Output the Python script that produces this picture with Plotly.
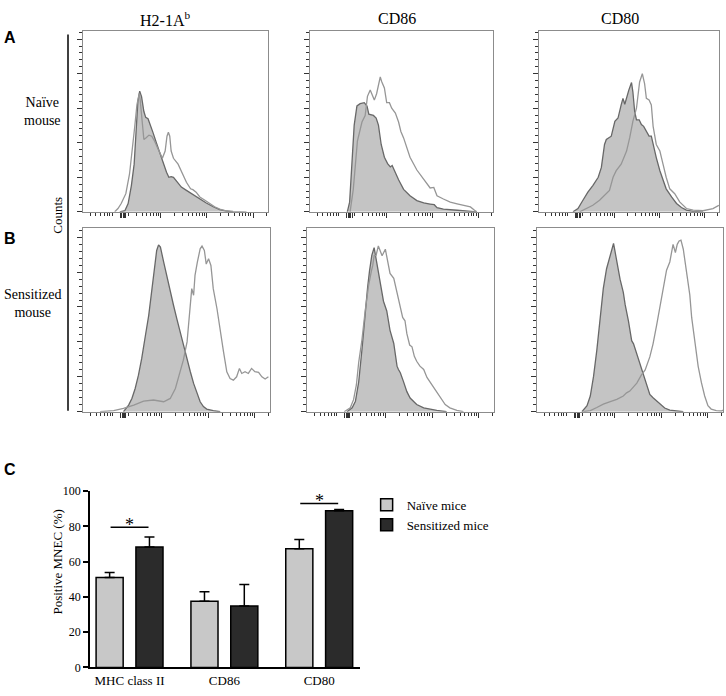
import plotly.graph_objects as go

# ---------------- text ----------------
MARKERS = ["H2-1A<sup>b</sup>", "CD86", "CD80"]
ROWS = ["Naïve<br>mouse", "Sensitized<br>mouse"]
PANELS = ["A", "B", "C"]

# ---------------- histogram data (log10 fluorescence, counts) ----------------
A1_FILL_E = [2.12, 2.23, 2.30, 2.37, 2.43, 2.48, 2.51, 2.55,
             2.59, 2.64, 2.68, 2.73, 2.78, 2.84, 2.91, 2.98,
             3.05, 3.13, 3.18, 3.23, 3.28, 3.36, 3.45, 3.56,
             3.67, 3.77, 3.88, 3.99, 4.14, 4.28, 4.42, 4.57]
A1_FILL_C = [0, 0.6, 4.8, 15.2, 27.6, 50.5, 63.8, 69.9,
             66.7, 58.1, 54.7, 53.9, 50.5, 45.7, 40.0, 34.3,
             28.6, 22.9, 20.0, 20.4, 20.0, 17.1, 14.3, 12.4,
             10.5, 8.6, 6.7, 5.1, 2.9, 1.3, 0.4, 0]
A1_OPEN_E = [2.01, 2.08, 2.15, 2.25, 2.33, 2.39, 2.44, 2.49,
             2.54, 2.56, 2.61, 2.64, 2.69, 2.75, 2.81, 2.87,
             2.95, 3.04, 3.10, 3.14, 3.17, 3.20, 3.23, 3.28,
             3.38, 3.47, 3.56, 3.65, 3.70, 3.77, 3.85, 3.96,
             4.06, 4.17, 4.28, 4.42, 4.57, 4.86]
A1_OPEN_C = [0, 1.9, 4.8, 10.5, 21.9, 35.2, 48.6, 61.9,
             68.6, 64.8, 48.6, 41.9, 42.9, 44.4, 43.8, 41.0,
             36.2, 31.0, 35.2, 43.8, 46.1, 43.8, 35.2, 31.0,
             27.6, 21.9, 17.1, 13.3, 12.8, 11.4, 8.6, 6.7,
             4.8, 2.9, 1.5, 0.6, 0.2, 0]

A2_FILL_E = [2.14, 2.19, 2.24, 2.29, 2.35, 2.42, 2.51, 2.57,
             2.61, 2.71, 2.77, 2.82, 2.88, 2.95, 3.02, 3.08,
             3.12, 3.16, 3.26, 3.37, 3.51, 3.66, 3.81, 3.95,
             4.04, 4.10, 4.24, 4.54, 4.83, 4.97]
A2_FILL_C = [0, 5.6, 27.9, 50.2, 61.3, 62.6, 63.2, 61.3,
             56.5, 55.8, 54.3, 50.2, 39.0, 31.6, 27.9, 26.0,
             26.8, 24.2, 18.6, 13.0, 9.3, 6.5, 5.2, 4.5,
             4.1, 2.4, 1.5, 0.9, 0.4, 0]
A2_OPEN_E = [2.20, 2.27, 2.36, 2.46, 2.53, 2.58, 2.64, 2.67,
             2.73, 2.78, 2.86, 2.89, 2.95, 3.00, 3.06, 3.11,
             3.15, 3.19, 3.26, 3.31, 3.37, 3.51, 3.66, 3.77,
             3.88, 3.95, 4.03, 4.10, 4.24, 4.39, 4.54, 4.68,
             4.83, 4.92, 4.97]
A2_OPEN_C = [0, 13.0, 40.9, 52.0, 55.8, 66.9, 70.6, 68.4,
             64.7, 68.4, 78.1, 75.5, 71.7, 63.2, 63.2, 60.0,
             58.6, 57.2, 52.0, 46.5, 42.8, 31.6, 24.2, 20.4,
             16.7, 13.8, 14.1, 9.3, 7.4, 5.6, 4.6, 3.7,
             2.8, 0.9, 0]

A3_FILL_E = [2.08, 2.19, 2.30, 2.41, 2.52, 2.64, 2.71, 2.78,
             2.82, 2.93, 3.01, 3.08, 3.15, 3.19, 3.23, 3.28,
             3.32, 3.38, 3.41, 3.45, 3.49, 3.55, 3.60, 3.65,
             3.71, 3.77, 3.82, 3.86, 3.93, 4.01, 4.08, 4.15,
             4.27, 4.38, 4.49, 4.60, 4.75, 4.97]
A3_FILL_C = [0, 1.9, 6.7, 11.4, 15.2, 20.0, 25.7, 39.0,
             41.9, 43.8, 52.4, 54.3, 61.9, 65.7, 62.3, 67.6,
             70.5, 74.9, 69.5, 58.1, 53.3, 53.3, 50.5, 49.5,
             46.7, 43.8, 43.8, 39.0, 31.4, 23.8, 18.1, 13.3,
             8.6, 4.8, 2.5, 1.0, 0.2, 0]
A3_OPEN_E = [2.23, 2.38, 2.52, 2.67, 2.78, 2.89, 2.97, 3.04,
             3.15, 3.27, 3.34, 3.41, 3.49, 3.52, 3.56, 3.62,
             3.67, 3.71, 3.77, 3.82, 3.86, 3.93, 4.01, 4.08,
             4.15, 4.23, 4.34, 4.45, 4.60, 4.75, 4.97, 5.19,
             5.32]
A3_OPEN_C = [0, 1.9, 3.8, 6.7, 9.5, 12.4, 20.0, 23.8,
             27.6, 35.2, 42.9, 52.4, 60.0, 65.7, 75.2, 80.0,
             74.3, 65.7, 64.8, 61.9, 49.5, 39.0, 35.2, 27.6,
             20.0, 13.3, 10.5, 5.7, 1.9, 1.0, 0.6, 1.9,
             3.8]

B1_FILL_E = [2.19, 2.30, 2.37, 2.44, 2.51, 2.58, 2.66, 2.73,
             2.80, 2.85, 2.90, 2.94, 2.98, 3.05, 3.12, 3.19,
             3.26, 3.33, 3.40, 3.47, 3.55, 3.62, 3.69, 3.76,
             3.83, 3.90, 3.97, 4.11, 4.26]
B1_FILL_C = [0, 3.8, 7.6, 13.3, 20.9, 30.5, 43.8, 55.2,
             70.5, 81.9, 92.4, 95.6, 94.3, 85.7, 77.1, 68.6,
             61.0, 53.3, 45.7, 38.1, 30.5, 22.9, 16.2, 10.5,
             5.7, 2.9, 1.5, 0.6, 0]
B1_OPEN_E = [1.69, 1.98, 2.19, 2.41, 2.62, 2.83, 3.05, 3.19,
             3.30, 3.40, 3.47, 3.55, 3.62, 3.65, 3.69, 3.72,
             3.77, 3.83, 3.87, 3.92, 3.96, 4.01, 4.06, 4.11,
             4.19, 4.26, 4.33, 4.40, 4.47, 4.54, 4.61, 4.67,
             4.72, 4.79, 4.86, 4.93, 5.00, 5.08, 5.15, 5.22,
             5.29]
B1_OPEN_C = [0, 0.6, 1.9, 3.8, 6.1, 6.7, 5.7, 7.6,
             13.3, 22.9, 29.5, 40.0, 59.0, 70.5, 66.7, 78.1,
             85.7, 93.3, 94.9, 92.4, 84.6, 87.6, 83.8, 70.5,
             59.0, 45.7, 34.3, 22.9, 19.0, 18.1, 20.0, 24.8,
             21.9, 22.9, 21.9, 24.8, 22.9, 22.5, 20.0, 18.7,
             20.0]

B2_FILL_E = [2.18, 2.29, 2.36, 2.43, 2.50, 2.57, 2.62, 2.66,
             2.71, 2.76, 2.80, 2.89, 2.96, 3.03, 3.10, 3.18,
             3.25, 3.28, 3.32, 3.39, 3.46, 3.53, 3.67, 3.82,
             3.96, 4.10, 4.31]
B2_FILL_C = [0, 2.2, 6.0, 17.1, 35.8, 58.1, 71.1, 80.4,
             89.6, 94.0, 87.5, 74.5, 63.3, 57.7, 46.6, 39.1,
             26.1, 24.2, 22.3, 17.1, 11.5, 7.8, 4.1, 2.2,
             1.3, 0.7, 0]
B2_OPEN_E = [2.12, 2.25, 2.32, 2.38, 2.43, 2.50, 2.57, 2.64,
             2.70, 2.73, 2.76, 2.80, 2.85, 2.93, 3.00, 3.05,
             3.10, 3.18, 3.25, 3.32, 3.37, 3.42, 3.46, 3.52,
             3.57, 3.62, 3.67, 3.74, 3.82, 3.89, 3.96, 4.03,
             4.10, 4.17, 4.28, 4.38, 4.53, 4.67]
B2_OPEN_C = [0, 2.2, 6.9, 15.3, 28.3, 41.3, 58.1, 72.1,
             80.4, 83.8, 89.4, 89.4, 95.0, 89.4, 93.1, 85.1,
             79.2, 76.4, 68.0, 61.5, 54.0, 52.1, 44.7, 38.2,
             37.2, 31.7, 28.9, 26.1, 24.2, 19.6, 16.8, 14.0,
             10.6, 7.8, 4.1, 2.2, 0.7, 0]

B3_FILL_E = [2.29, 2.40, 2.47, 2.54, 2.61, 2.68, 2.75, 2.82,
             2.88, 2.93, 2.97, 3.00, 3.04, 3.11, 3.18, 3.22,
             3.29, 3.36, 3.40, 3.47, 3.54, 3.61, 3.72, 3.75,
             3.82, 3.90, 3.97, 4.07, 4.18, 4.32, 4.47]
B3_FILL_C = [0, 3.4, 9.0, 20.2, 35.1, 53.8, 70.7, 81.9,
             87.5, 93.1, 96.4, 92.1, 85.2, 75.9, 68.4, 61.3,
             52.0, 40.7, 38.9, 33.3, 27.7, 22.1, 12.7, 9.9,
             8.0, 6.2, 4.3, 2.1, 0.9, 0.4, 0]
B3_OPEN_E = [2.32, 2.47, 2.61, 2.75, 2.90, 3.04, 3.18, 3.25,
             3.32, 3.47, 3.57, 3.65, 3.75, 3.82, 3.90, 3.97,
             4.04, 4.11, 4.18, 4.22, 4.25, 4.30, 4.34, 4.38,
             4.42, 4.47, 4.54, 4.61, 4.65, 4.72, 4.79, 4.86,
             4.93, 5.00, 5.07, 5.18, 5.29, 5.35]
B3_OPEN_C = [0, 0.6, 2.4, 4.3, 5.8, 7.1, 9.0, 10.8,
             11.8, 16.4, 21.1, 23.9, 31.4, 38.9, 50.1, 61.3,
             70.7, 81.1, 85.8, 93.1, 95.9, 91.2, 95.9, 97.8,
             98.3, 93.1, 80.0, 66.9, 54.0, 39.1, 26.0, 16.6,
             9.0, 3.4, 1.5, 0.6, 0.4, 1.1]

HISTS = [
    (A1_FILL_E, A1_FILL_C, A1_OPEN_E, A1_OPEN_C),
    (A2_FILL_E, A2_FILL_C, A2_OPEN_E, A2_OPEN_C),
    (A3_FILL_E, A3_FILL_C, A3_OPEN_E, A3_OPEN_C),
    (B1_FILL_E, B1_FILL_C, B1_OPEN_E, B1_OPEN_C),
    (B2_FILL_E, B2_FILL_C, B2_OPEN_E, B2_OPEN_C),
    (B3_FILL_E, B3_FILL_C, B3_OPEN_E, B3_OPEN_C),
]

# ---------------- bar chart data ----------------
CATEGORIES = ["MHC class II", "CD86", "CD80"]
SERIES = ["Naïve mice", "Sensitized mice"]
NAIVE = [51.0, 37.5, 67.3]
NAIVE_SEM = [2.8, 5.4, 5.2]
SENSITIZED = [68.3, 34.8, 88.8]
SENSITIZED_SEM = [5.6, 12.2, 0.8]
SIG_CATEGORIES = ["MHC class II", "CD80"]
SIG_LEVELS = [79.5, 93.0]
Y_TITLE = "Positive MNEC (%)"
Y_TICKS = [0, 20, 40, 60, 80, 100]

# ---------------- layout helpers ----------------
W, H = 726, 696
SERIF = "Liberation Serif"
SANS = "Liberation Sans"

def px_x(a, b):
    return [a / W, b / W]

def px_y(top, bottom):
    return [1 - bottom / H, 1 - top / H]

HIST_X = [px_x(83, 268), px_x(310, 493), px_x(539, 719),
          px_x(83, 270), px_x(307, 494), px_x(537, 723)]
HIST_Y = [px_y(24, 209)] * 3 + [px_y(226, 413)] * 3

# decade ticks plus the dense cluster that marks zero on the biexponential scale
MAJOR_X = [135, 145, 155, 165, 175] + [10 ** k for k in range(3, 6)]
MINOR_X = [m * 10 ** k for k in range(1, 6) for m in range(2, 10)]

fig = go.Figure()
layout = dict(width=W, height=H, margin=dict(l=0, r=0, t=0, b=0),
              paper_bgcolor="white", plot_bgcolor="white",
              showlegend=True)

FRAME = "#8c8c8c"
TICKC = "#333333"

for i, (fe, fc, oe, oc) in enumerate(HISTS):
    n = i + 1
    xa, ya = f"x{n}", f"y{n}"
    fig.add_trace(go.Scatter(x=[10 ** e for e in fe], y=fc, mode="lines",
                             fill="tozeroy", fillcolor="#c4c4c4",
                             line=dict(color="#686868", width=1.3),
                             xaxis=xa, yaxis=ya, showlegend=False,
                             hoverinfo="skip"))
    fig.add_trace(go.Scatter(x=[10 ** e for e in oe], y=oc, mode="lines",
                             line=dict(color="#969696", width=1.3),
                             xaxis=xa, yaxis=ya, showlegend=False,
                             hoverinfo="skip"))
    layout[f"xaxis{n}"] = dict(
        domain=HIST_X[i], anchor=ya, type="log", range=[1.324, 5.324],
        showline=True, mirror=True, linecolor=FRAME, linewidth=1,
        showgrid=False, zeroline=False, showticklabels=False,
        ticks="outside", tickmode="array", tickvals=MAJOR_X, ticklen=5,
        tickcolor=TICKC, tickwidth=1,
        minor=dict(tickmode="array", tickvals=MINOR_X, ticks="outside",
                   ticklen=3, tickcolor=TICKC, tickwidth=1, showgrid=False))
    layout[f"yaxis{n}"] = dict(
        domain=HIST_Y[i], anchor=xa, range=[0, 105],
        showline=True, mirror=True, linecolor=FRAME, linewidth=1,
        showgrid=False, zeroline=False, showticklabels=False,
        ticks="outside", tick0=0, dtick=20, ticklen=5, tickcolor=TICKC,
        tickwidth=1,
        minor=dict(dtick=4, ticks="outside", ticklen=3, tickcolor=TICKC,
                   tickwidth=1, showgrid=False))

# ---------------- bar chart ----------------
BAR_COLORS = ["#c8c8c8", "#2b2b2b"]
for name, vals, sem, col in [(SERIES[0], NAIVE, NAIVE_SEM, BAR_COLORS[0]),
                             (SERIES[1], SENSITIZED, SENSITIZED_SEM, BAR_COLORS[1])]:
    fig.add_trace(go.Bar(x=CATEGORIES, y=vals, name=name,
                         marker=dict(color=col, line=dict(color="black", width=1.5)),
                         error_y=dict(type="data", symmetric=False, array=sem,
                                      arrayminus=[0] * len(sem), color="black",
                                      thickness=1.5, width=5),
                         xaxis="x7", yaxis="y7"))

layout["xaxis7"] = dict(domain=px_x(90, 360), anchor="y7", type="category",
                        range=[-0.417, 2.43], showline=True, linecolor="black",
                        linewidth=1.5, ticks="", showgrid=False, zeroline=False,
                        tickfont=dict(family=SERIF, size=13, color="black"))
layout["yaxis7"] = dict(domain=px_y(494, 674), anchor="x7", range=[0, 100],
                        showline=True, linecolor="black", linewidth=1.5,
                        ticks="outside", ticklen=5, tickwidth=1.5,
                        tickcolor="black", tickvals=Y_TICKS,
                        showgrid=False, zeroline=False,
                        tickfont=dict(family=SERIF, size=12, color="black"))
layout["bargap"] = 0.16
layout["bargroupgap"] = 0.32
layout["barmode"] = "group"
layout["legend"] = dict(x=0.505, y=0.292, xanchor="left", yanchor="top",
                        font=dict(family=SERIF, size=13, color="black"),
                        bgcolor="rgba(0,0,0,0)", tracegroupgap=4)

shapes = []
annotations = []
SIG_HALF = 0.2
for cat, lvl in zip(SIG_CATEGORIES, SIG_LEVELS):
    c = CATEGORIES.index(cat)
    shapes.append(dict(type="line", xref="x7", yref="y7",
                       x0=c - SIG_HALF, x1=c + SIG_HALF, y0=lvl, y1=lvl,
                       line=dict(color="black", width=1.5)))
    annotations.append(dict(x=c, y=lvl, xref="x7", yref="y7", text="*",
                            showarrow=False, yanchor="bottom", yshift=-10,
                            font=dict(family=SERIF, size=18, color="black")))

# y title of bar panel
annotations.append(dict(x=58 / W, y=1 - 567 / H, xref="paper", yref="paper",
                        text=Y_TITLE, textangle=-90, showarrow=False,
                        xanchor="center", yanchor="middle",
                        font=dict(family=SERIF, size=13, color="black")))

# shared "Counts" axis line
shapes.append(dict(type="line", xref="paper", yref="paper",
                   x0=68 / W, x1=68 / W, y0=1 - 412 / H, y1=1 - 28 / H,
                   line=dict(color="black", width=1.5)))

# column titles
for txt, cx in zip(MARKERS, [165, 397, 620]):
    annotations.append(dict(x=cx / W, y=1 - 12 / H, xref="paper", yref="paper",
                            text=txt, showarrow=False, xanchor="center",
                            yanchor="middle",
                            font=dict(family=SERIF, size=16, color="black")))
# row labels
for txt, cx, cy in zip(ROWS, [42, 33], [107, 303]):
    annotations.append(dict(x=cx / W, y=1 - cy / H, xref="paper", yref="paper",
                            text=txt, showarrow=False, xanchor="center",
                            yanchor="middle", align="center",
                            font=dict(family=SERIF, size=14, color="black")))
# Counts label
annotations.append(dict(x=58 / W, y=1 - 213 / H, xref="paper", yref="paper",
                        text="Counts", textangle=-90, showarrow=False,
                        xanchor="center", yanchor="middle",
                        font=dict(family=SERIF, size=13, color="black")))
# panel letters
for txt, cy in zip(PANELS, [31, 236, 472]):
    annotations.append(dict(x=2 / W, y=1 - cy / H, xref="paper", yref="paper",
                            text="<b>" + txt + "</b>", showarrow=False,
                            xanchor="left", yanchor="middle",
                            font=dict(family=SANS, size=16, color="black")))

layout["shapes"] = shapes
layout["annotations"] = annotations
fig.update_layout(**layout)
fig.write_html("out.html", config={"displayModeBar": False},
               post_script="document.body.style.margin='0px';"
                           "document.body.style.overflow='hidden';")
